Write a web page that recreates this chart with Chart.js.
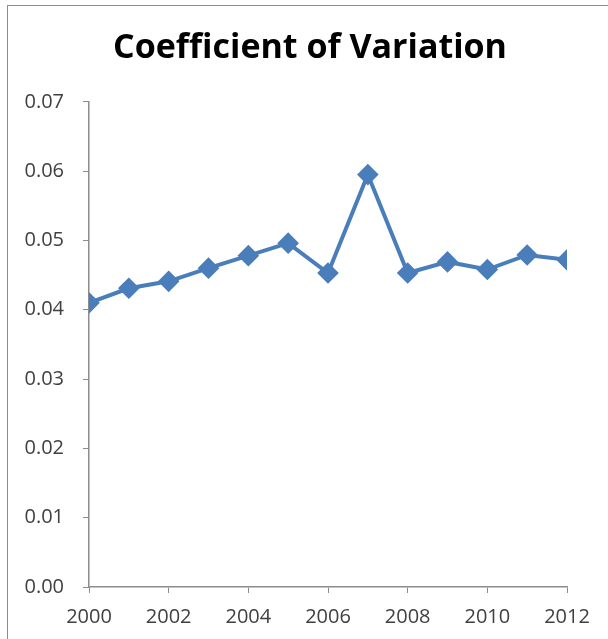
<!DOCTYPE html>
<html>
<head>
<meta charset="utf-8">
<script src="https://cdn.jsdelivr.net/npm/chart.js@4"></script>
<style>
  html, body { margin: 0; padding: 0; background: #fff; overflow: hidden; }
  #frame { position: absolute; left: 7px; top: 5px; width: 700px; height: 700px; border: 1px solid #8c8c8c; }
  #wrap { position: absolute; left: 0; top: 0; width: 608px; height: 639px; }
</style>
</head>
<body>
<div id="frame"></div>
<div id="wrap"><canvas id="cv"></canvas></div>
<script>
// years on the x axis, coefficient values
const years = [2000, 2001, 2002, 2003, 2004, 2005, 2006, 2007, 2008, 2009, 2010, 2011, 2012];
const cov = [0.0410, 0.0431, 0.0441, 0.0460, 0.0478, 0.0496, 0.0453, 0.0595, 0.0453, 0.0469, 0.0458, 0.0479, 0.0472];
const yTicks = [0, 0.01, 0.02, 0.03, 0.04, 0.05, 0.06, 0.07];

const blue = '#4a7ebb';
const axisGrey = '#8c8c8c';
const textGrey = '#404040';

new Chart(document.getElementById('cv'), {
    type: 'line',
    data: {
        datasets: [{
            label: 'Coefficient of Variation',
            data: years.map((y, i) => ({ x: y, y: cov[i] })),
            borderColor: blue,
            backgroundColor: blue,
            borderWidth: 4,
            pointStyle: 'rectRot',
            pointRadius: 8,
            pointHoverRadius: 8,
            tension: 0
        }]
    },
    options: {
        responsive: true,
        maintainAspectRatio: false,
        animation: false,
        layout: { padding: { left: 12, right: 0, top: 0, bottom: 0 } },
        plugins: {
            legend: { display: false },
            tooltip: { enabled: false },
            title: {
                display: true,
                text: 'Coefficient of Variation',
                color: '#000',
                font: { family: 'Open Sans', size: 34, weight: 'bold' },
                padding: { top: 28, bottom: 33 }
            }
        },
        scales: {
            x: {
                type: 'linear',
                min: 2000,
                max: 2012,
                grid: { drawOnChartArea: false, drawTicks: true, tickLength: 6, color: axisGrey },
                border: { color: axisGrey, width: 1.5 },
                ticks: {
                    stepSize: 2,
                    color: textGrey,
                    font: { family: 'Open Sans', size: 20 },
                    padding: 12,
                    maxRotation: 0,
                    callback: v => String(v)
                },
                afterFit: s => { s.height = 52; }
            },
            y: {
                min: 0,
                max: 0.07,
                afterBuildTicks: s => { s.ticks = yTicks.map(v => ({ value: v })); },
                grid: { drawOnChartArea: false, drawTicks: true, tickLength: 6, color: axisGrey },
                border: { color: axisGrey, width: 1.5 },
                ticks: {
                    color: textGrey,
                    font: { family: 'Open Sans', size: 20 },
                    padding: 19,
                    callback: v => v.toFixed(2)
                },
                afterFit: s => { s.width = 77; }
            },
            // empty right-hand spacer so the plot ends where the reference's does
            spacer: {
                type: 'linear',
                position: 'right',
                display: true,
                grid: { display: false },
                border: { display: false },
                ticks: { display: false },
                afterFit: s => { s.width = 41; }
            }
        }
    }
});
</script>
</body>
</html>
